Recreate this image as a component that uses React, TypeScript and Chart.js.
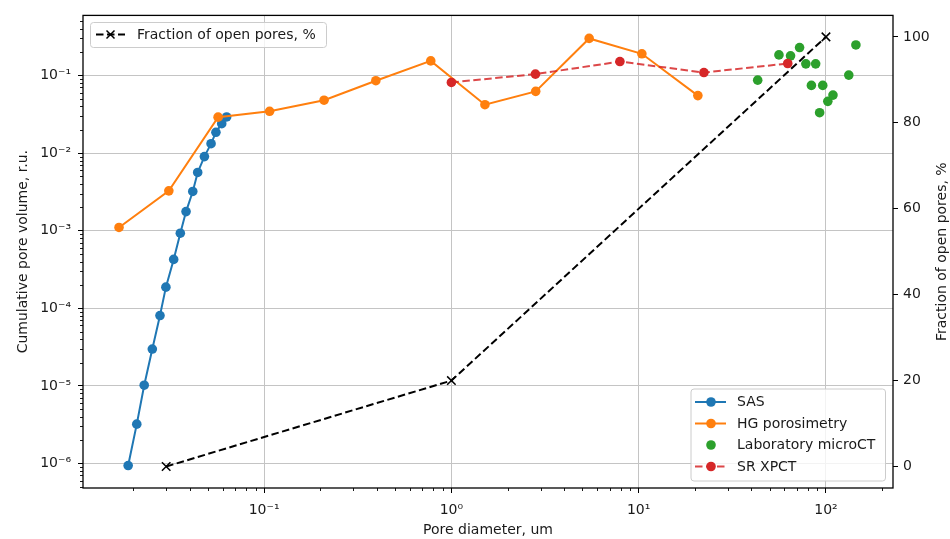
import React, { useEffect, useRef } from 'react';
import { Chart, registerables } from 'chart.js';

Chart.register(...registerables);

// ---- data ----
const sasDiameter = [0.0188, 0.0209, 0.0229, 0.0253, 0.0278, 0.0299, 0.0329, 0.0357, 0.0383, 0.0416, 0.0442, 0.048, 0.0521, 0.0553, 0.0594, 0.0631];
const sasVolume = [9.4e-7, 3.21e-6, 1.02e-5, 2.98e-5, 8.05e-5, 1.87e-4, 4.26e-4, 9.27e-4, 1.76e-3, 3.2e-3, 5.62e-3, 9.0e-3, 0.0132, 0.0185, 0.0239, 0.0292];

const hgDiameter = [0.0168, 0.031, 0.0568, 0.107, 0.209, 0.395, 0.776, 1.51, 2.82, 5.44, 10.4, 20.7];
const hgVolume = [1.1e-3, 3.26e-3, 0.029, 0.0345, 0.048, 0.0855, 0.154, 0.042, 0.0624, 0.3, 0.19, 0.055];

const ctDiameter = [43.2, 56.1, 64.7, 72.3, 78.1, 88.1, 83.6, 96.1, 92.5, 102.3, 109, 132.4, 144.5];
const ctVolume = [0.087, 0.184, 0.179, 0.229, 0.141, 0.141, 0.0744, 0.0744, 0.0331, 0.0464, 0.0558, 0.101, 0.247];

const srDiameter = [1.0, 2.81, 7.94, 22.3, 62.5];
const srVolume = [0.0813, 0.104, 0.151, 0.109, 0.1425];

const fracDiameter = [0.03, 1, 100];
const fracOpen = [0, 20, 100];

const xTickValues = [0.1, 1, 10, 100];
const xTickLabels = ['10⁻¹', '10⁰', '10¹', '10²'];
const yTickValues = [1e-6, 1e-5, 1e-4, 1e-3, 1e-2, 1e-1];
const yTickLabels = ['10⁻⁶', '10⁻⁵', '10⁻⁴', '10⁻³', '10⁻²', '10⁻¹'];
const y2TickValues = [0, 20, 40, 60, 80, 100];

const xTitle = 'Pore diameter, um';
const yTitle = 'Cumulative pore volume, r.u.';
const y2Title = 'Fraction of open pores, %';
const seriesNames = ['SAS', 'HG porosimetry', 'Laboratory microCT', 'SR XPCT'];
const fracName = 'Fraction of open pores, %';

// ---- styling ----
const FONT = "'DejaVu Sans', sans-serif";
const FS = 14;
const BLUE = '#1f77b4';
const ORANGE = '#ff7f0e';
const GREEN = '#2ca02c';
const RED = '#d62728';
const RED_LINE = 'rgba(214,39,40,0.85)';
const GRID = '#c4c4c4';
const DASH = [7.5, 3.5];
const PR = 4.8;

const zip = (xs: number[], ys: number[]) => xs.map((x, i) => ({ x, y: ys[i] }));

const decor = {
  id: 'decor',
  afterDraw(chart: any) {
    const { ctx, chartArea: a, scales } = chart;
    const xs = scales.x;
    const ys = scales.y;
    ctx.save();
    // minor ticks
    ctx.strokeStyle = '#000';
    ctx.lineWidth = 0.9;
    ctx.beginPath();
    for (let d = -3; d <= 3; d++) {
      for (let m = 2; m <= 9; m++) {
        const v = m * Math.pow(10, d);
        if (v > xs.min && v < xs.max) {
          const p = Math.round(xs.getPixelForValue(v)) + 0.5;
          ctx.moveTo(p, a.bottom);
          ctx.lineTo(p, a.bottom + 3);
        }
      }
    }
    for (let d = -8; d <= 1; d++) {
      for (let m = 2; m <= 9; m++) {
        const v = m * Math.pow(10, d);
        if (v > ys.min && v < ys.max) {
          const p = Math.round(ys.getPixelForValue(v)) + 0.5;
          ctx.moveTo(a.left, p);
          ctx.lineTo(a.left - 3, p);
        }
      }
    }
    ctx.stroke();

    // frame
    ctx.lineWidth = 1.3;
    ctx.strokeStyle = '#000';
    ctx.strokeRect(a.left, a.top, a.right - a.left, a.bottom - a.top);

    // axis titles
    ctx.fillStyle = '#1a1a1a';
    ctx.font = `${FS}px ${FONT}`;
    ctx.textAlign = 'center';
    ctx.textBaseline = 'alphabetic';
    ctx.fillText(xTitle, (a.left + a.right) / 2, 534);

    ctx.save();
    ctx.translate(27, (a.top + a.bottom) / 2);
    ctx.rotate(-Math.PI / 2);
    ctx.fillText(yTitle, 0, 0);
    ctx.restore();

    ctx.save();
    ctx.translate(946, (a.top + a.bottom) / 2);
    ctx.rotate(-Math.PI / 2);
    ctx.fillText(y2Title, 0, 0);
    ctx.restore();

    // legends
    const box = (x0: number, y0: number, x1: number, y1: number) => {
      ctx.beginPath();
      const r = 3;
      ctx.moveTo(x0 + r, y0);
      ctx.arcTo(x1, y0, x1, y1, r);
      ctx.arcTo(x1, y1, x0, y1, r);
      ctx.arcTo(x0, y1, x0, y0, r);
      ctx.arcTo(x0, y0, x1, y0, r);
      ctx.closePath();
      ctx.fillStyle = 'rgba(255,255,255,0.8)';
      ctx.fill();
      ctx.strokeStyle = '#cccccc';
      ctx.lineWidth = 1;
      ctx.stroke();
    };
    const sample = (x0: number, x1: number, y: number, color: string, dashed: boolean, line: boolean) => {
      if (line) {
        ctx.beginPath();
        ctx.setLineDash(dashed ? DASH : []);
        ctx.strokeStyle = color;
        ctx.lineWidth = 2;
        ctx.moveTo(x0, y);
        ctx.lineTo(x1, y);
        ctx.stroke();
        ctx.setLineDash([]);
      }
    };
    const dot = (x: number, y: number, color: string) => {
      ctx.beginPath();
      ctx.arc(x, y, PR, 0, Math.PI * 2);
      ctx.fillStyle = color;
      ctx.fill();
    };

    // upper-left legend
    box(90.5, 22.5, 326.5, 47.5);
    sample(96, 125, 34.5, '#000', true, true);
    ctx.beginPath();
    ctx.strokeStyle = '#000';
    ctx.lineWidth = 1.5;
    ctx.moveTo(110.5 - 4, 34.5 - 4);
    ctx.lineTo(110.5 + 4, 34.5 + 4);
    ctx.moveTo(110.5 - 4, 34.5 + 4);
    ctx.lineTo(110.5 + 4, 34.5 - 4);
    ctx.stroke();
    ctx.fillStyle = '#1a1a1a';
    ctx.font = `${FS}px ${FONT}`;
    ctx.textAlign = 'left';
    ctx.textBaseline = 'middle';
    ctx.fillText(fracName, 137, 35);

    // lower-right legend
    box(691, 389, 885.5, 481);
    const rows = [402, 423.5, 445, 466.5];
    const colors = [BLUE, ORANGE, GREEN, RED];
    const lineCols = [BLUE, ORANGE, GREEN, RED_LINE];
    rows.forEach((ry, i) => {
      sample(695, 726, ry, lineCols[i], i === 3, i !== 2);
      dot(711, ry, colors[i]);
      ctx.fillStyle = '#1a1a1a';
      ctx.font = `${FS}px ${FONT}`;
      ctx.textAlign = 'left';
      ctx.textBaseline = 'middle';
      ctx.fillText(seriesNames[i], 737, ry + 0.5);
    });

    ctx.restore();
  },
};

export default function App() {
  const ref = useRef<HTMLCanvasElement | null>(null);
  useEffect(() => {
    document.body.style.margin = '0';
    if (!ref.current) return;
    const tickFont = { family: FONT, size: FS };
    const chart = new Chart(ref.current, {
      type: 'line',
      data: {
        datasets: [
          {
            label: seriesNames[0],
            data: zip(sasDiameter, sasVolume),
            borderColor: BLUE,
            backgroundColor: BLUE,
            borderWidth: 2,
            pointRadius: PR,
            pointBorderWidth: 0,
            yAxisID: 'y',
            order: 5,
          },
          {
            label: seriesNames[1],
            data: zip(hgDiameter, hgVolume),
            borderColor: ORANGE,
            backgroundColor: ORANGE,
            borderWidth: 2,
            pointRadius: PR,
            pointBorderWidth: 0,
            yAxisID: 'y',
            order: 4,
          },
          {
            label: seriesNames[2],
            data: zip(ctDiameter, ctVolume),
            borderColor: GREEN,
            backgroundColor: GREEN,
            showLine: false,
            pointRadius: PR,
            pointBorderWidth: 0,
            yAxisID: 'y',
            order: 3,
          },
          {
            label: seriesNames[3],
            data: zip(srDiameter, srVolume),
            borderColor: RED_LINE,
            backgroundColor: RED,
            borderWidth: 2,
            borderDash: DASH,
            pointRadius: PR,
            pointBorderWidth: 0,
            yAxisID: 'y',
            order: 2,
          },
          {
            label: fracName,
            data: zip(fracDiameter, fracOpen),
            borderColor: '#000',
            backgroundColor: '#000',
            borderWidth: 2,
            borderDash: DASH,
            pointStyle: 'crossRot',
            pointRadius: 6,
            pointBorderWidth: 1.5,
            yAxisID: 'y2',
            order: 1,
          },
        ],
      },
      options: {
        animation: false,
        responsive: false,
        events: [],
        layout: { padding: { top: 14, left: 0, right: 0, bottom: 0 } },
        plugins: { legend: { display: false }, tooltip: { enabled: false } },
        scales: {
          x: {
            type: 'logarithmic',
            position: 'bottom',
            min: 0.01079,
            max: 228,
            afterBuildTicks: (s: any) => {
              s.ticks = xTickValues.map((v) => ({ value: v }));
            },
            afterFit: (s: any) => {
              s.height = 51;
            },
            ticks: {
              font: tickFont,
              color: '#1a1a1a',
              padding: 9,
              maxRotation: 0,
              autoSkip: false,
              callback: (v: any) => {
                const i = xTickValues.findIndex((t) => Math.abs(t - v) / t < 1e-6);
                return i >= 0 ? xTickLabels[i] : '';
              },
            },
            grid: { color: GRID, lineWidth: 1, tickColor: '#000', tickLength: 5, tickWidth: 1 },
            border: { display: false },
          },
          y: {
            type: 'logarithmic',
            position: 'left',
            min: 4.83e-7,
            max: 0.594,
            afterBuildTicks: (s: any) => {
              s.ticks = yTickValues.map((v) => ({ value: v }));
            },
            afterFit: (s: any) => {
              s.width = 83;
            },
            ticks: {
              font: tickFont,
              color: '#1a1a1a',
              padding: 7,
              autoSkip: false,
              callback: (v: any) => {
                const i = yTickValues.findIndex((t) => Math.abs(t - v) / t < 1e-6);
                return i >= 0 ? yTickLabels[i] : '';
              },
            },
            grid: { color: GRID, lineWidth: 1, tickColor: '#000', tickLength: 5, tickWidth: 1 },
            border: { display: false },
          },
          y2: {
            type: 'linear',
            position: 'right',
            min: -5,
            max: 105,
            afterBuildTicks: (s: any) => {
              s.ticks = y2TickValues.map((v) => ({ value: v }));
            },
            afterFit: (s: any) => {
              s.width = 57;
            },
            ticks: {
              font: tickFont,
              color: '#1a1a1a',
              padding: 5,
              autoSkip: false,
              callback: (v: any) => String(v),
            },
            grid: { drawOnChartArea: false, tickColor: '#000', tickLength: 5, tickWidth: 1 },
            border: { display: false },
          },
        },
      },
      plugins: [decor],
    } as any);
    return () => chart.destroy();
  }, []);
  return (
    <canvas ref={ref} width={950} height={539} style={{ display: 'block', width: 950, height: 539 }} />
  );
}
